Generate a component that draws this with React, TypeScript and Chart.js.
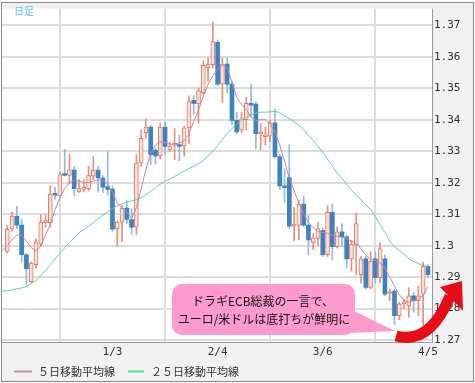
import React, { useEffect, useRef } from 'react';
import { Chart, registerables } from 'chart.js';

Chart.register(...registerables);

// Daily EUR/USD candles (index 0 = first visible day, 88 = 4/5)
const opens = [
  1.2982, 1.3053, 1.3093, 1.3065, 1.2971, 1.2886, 1.2940, 1.3005, 1.3073, 1.3073,
  1.3166, 1.3158, 1.3226, 1.3223, 1.3240, 1.3171, 1.3179, 1.3181, 1.3221, 1.3240,
  1.3215, 1.3188, 1.3180, 1.3054, 1.3075, 1.3119, 1.3083, 1.3059, 1.3263, 1.3359,
  1.3377, 1.3304, 1.3285, 1.3377, 1.3304, 1.3319, 1.3320, 1.3317, 1.3374, 1.3462,
  1.3450, 1.3487, 1.3565, 1.3575, 1.3646, 1.3513, 1.3577, 1.3513, 1.3398, 1.3367,
  1.3400, 1.3452, 1.3450, 1.3354, 1.3346, 1.3348, 1.3390, 1.3283, 1.3190, 1.3216,
  1.3062, 1.3065, 1.3132, 1.3065, 1.3010, 1.3023, 1.3049, 1.2971, 1.3106, 1.2997,
  1.3044, 1.3028, 1.2958, 1.3002, 1.2908, 1.2958, 1.2867, 1.2958, 1.2898, 1.2958,
  1.2848, 1.2856, 1.2778, 1.2815, 1.2809, 1.2841, 1.2825, 1.2846, 1.2934,
];
const highs = [
  1.3064, 1.3106, 1.3125, 1.3083, 1.2976, 1.2948, 1.3022, 1.3098, 1.3098, 1.3190,
  1.3185, 1.3231, 1.3306, 1.3291, 1.3252, 1.3210, 1.3210, 1.3252, 1.3283, 1.3252,
  1.3222, 1.3299, 1.3190, 1.3080, 1.3127, 1.3143, 1.3117, 1.3289, 1.3367, 1.3403,
  1.3382, 1.3310, 1.3390, 1.3393, 1.3328, 1.3372, 1.3351, 1.3380, 1.3476, 1.3476,
  1.3500, 1.3586, 1.3596, 1.3710, 1.3653, 1.3596, 1.3596, 1.3523, 1.3424, 1.3424,
  1.3471, 1.3512, 1.3455, 1.3388, 1.3377, 1.3398, 1.3434, 1.3290, 1.3244, 1.3320,
  1.3122, 1.3143, 1.3158, 1.3096, 1.3038, 1.3075, 1.3054, 1.3127, 1.3132, 1.3059,
  1.3070, 1.3033, 1.3018, 1.3104, 1.2966, 1.2966, 1.2981, 1.2981, 1.3010, 1.2971,
  1.2862, 1.2862, 1.2820, 1.2830, 1.2867, 1.2851, 1.2872, 1.2948, 1.2939,
];
const lows = [
  1.2976, 1.3046, 1.3054, 1.2948, 1.2877, 1.2882, 1.2929, 1.2997, 1.3059, 1.3059,
  1.3148, 1.3153, 1.3221, 1.3195, 1.3158, 1.3169, 1.3171, 1.3174, 1.3210, 1.3170,
  1.3168, 1.3160, 1.3045, 1.3000, 1.3013, 1.3070, 1.3035, 1.3035, 1.3252, 1.3341,
  1.3258, 1.3258, 1.3275, 1.3290, 1.3298, 1.3273, 1.3270, 1.3284, 1.3325, 1.3418,
  1.3388, 1.3481, 1.3523, 1.3565, 1.3508, 1.3455, 1.3486, 1.3385, 1.3356, 1.3359,
  1.3367, 1.3408, 1.3309, 1.3304, 1.3320, 1.3330, 1.3278, 1.3179, 1.3138, 1.3054,
  1.3015, 1.3018, 1.3060, 1.2971, 1.2987, 1.3000, 1.2966, 1.2966, 1.2955, 1.2992,
  1.2997, 1.2929, 1.2919, 1.2908, 1.2882, 1.2862, 1.2862, 1.2882, 1.2882, 1.2841,
  1.2825, 1.2750, 1.2765, 1.2799, 1.2773, 1.2789, 1.2778, 1.2747, 1.2898,
];
const closes = [
  1.3052, 1.3094, 1.3065, 1.2971, 1.2927, 1.2945, 1.3012, 1.3075, 1.3077, 1.3164,
  1.3160, 1.3226, 1.3223, 1.3241, 1.3181, 1.3181, 1.3186, 1.3223, 1.3240, 1.3215,
  1.3186, 1.3179, 1.3052, 1.3075, 1.3119, 1.3083, 1.3059, 1.3263, 1.3341, 1.3377,
  1.3289, 1.3285, 1.3377, 1.3315, 1.3316, 1.3322, 1.3315, 1.3374, 1.3458, 1.3452,
  1.3492, 1.3573, 1.3577, 1.3648, 1.3513, 1.3577, 1.3513, 1.3398, 1.3361, 1.3403,
  1.3452, 1.3446, 1.3356, 1.3361, 1.3351, 1.3390, 1.3283, 1.3190, 1.3184, 1.3062,
  1.3067, 1.3132, 1.3065, 1.3018, 1.3025, 1.3054, 1.2971, 1.3106, 1.2997, 1.3044,
  1.3028, 1.2958, 1.3004, 1.3070, 1.2958, 1.2867, 1.2950, 1.2898, 1.2990, 1.2846,
  1.2854, 1.2778, 1.2815, 1.2820, 1.2841, 1.2825, 1.2841, 1.2934, 1.2908,
];

// Moving averages, index -1 .. 88
const ma5 = [
  1.2983, 1.3000, 1.3020, 1.3033, 1.3033, 1.3014, 1.2994, 1.2982, 1.2998, 1.3035, 1.3068,
  1.3115, 1.3152, 1.3182, 1.3200, 1.3208, 1.3206, 1.3200, 1.3200, 1.3205, 1.3209,
  1.3208, 1.3196, 1.3169, 1.3137, 1.3119, 1.3106, 1.3087, 1.3120, 1.3180, 1.3243,
  1.3293, 1.3320, 1.3330, 1.3328, 1.3322, 1.3322, 1.3326, 1.3333, 1.3355, 1.3395,
  1.3430, 1.3475, 1.3512, 1.3540, 1.3560, 1.3572, 1.3565, 1.3520, 1.3470, 1.3448,
  1.3432, 1.3408, 1.3398, 1.3400, 1.3400, 1.3385, 1.3360, 1.3320, 1.3268, 1.3215,
  1.3175, 1.3135, 1.3102, 1.3073, 1.3057, 1.3045, 1.3042, 1.3039, 1.3034, 1.3030,
  1.3027, 1.3023, 1.3014, 1.3008, 1.2990, 1.2970, 1.2958, 1.2952, 1.2945, 1.2928,
  1.2900, 1.2872, 1.2845, 1.2826, 1.2820, 1.2826, 1.2831, 1.2842, 1.2870,
];
const ma25 = [
  1.2855, 1.2857, 1.2860, 1.2863, 1.2866, 1.2871, 1.2879, 1.2890, 1.2905, 1.2921, 1.2940,
  1.2958, 1.2975, 1.2993, 1.3010, 1.3025, 1.3041, 1.3052, 1.3062, 1.3073, 1.3086,
  1.3097, 1.3108, 1.3118, 1.3126, 1.3133, 1.3138, 1.3142, 1.3146, 1.3152, 1.3162,
  1.3173, 1.3184, 1.3195, 1.3204, 1.3212, 1.3220, 1.3228, 1.3237, 1.3245, 1.3252,
  1.3260, 1.3272, 1.3285, 1.3300, 1.3318, 1.3338, 1.3356, 1.3372, 1.3386, 1.3398,
  1.3408, 1.3416, 1.3421, 1.3424, 1.3424, 1.3425, 1.3427, 1.3422, 1.3412, 1.3403,
  1.3393, 1.3382, 1.3368, 1.3350, 1.3334, 1.3315, 1.3296, 1.3275, 1.3253, 1.3231,
  1.3214, 1.3195, 1.3176, 1.3162, 1.3145, 1.3130, 1.3115, 1.3093, 1.3066, 1.3042,
  1.3015, 1.2997, 1.2985, 1.2972, 1.2958, 1.2950, 1.2943, 1.2937, 1.2934,
];

const xTickIdx = [0, 22, 44, 66, 88];
const xTickLabels = ['', '1/3', '2/4', '3/6', '4/5'];
const yTicks = [1.27, 1.28, 1.29, 1.3, 1.31, 1.32, 1.33, 1.34, 1.35, 1.36, 1.37];
const yTickLabels = ['1.27', '1.28', '1.29', '1.3', '1.31', '1.32', '1.33', '1.34', '1.35', '1.36', '1.37'];
const legendLabels = ['５日移動平均線', '２５日移動平均線'];
const periodLabel = '日足';
const calloutLines = ['ドラギECB総裁の一言で、', 'ユーロ/米ドルは底打ちが鮮明に'];

const MA5_COLOR = '#c986a2';
const MA25_COLOR = '#5fd39c';

export default function App() {
  const ref = useRef<HTMLCanvasElement>(null);

  useEffect(() => {
    document.body.style.margin = '0';
    const canvas = ref.current;
    if (!canvas) return;
    const idx = opens.map((_, i) => i);
    const up = idx.filter((i) => closes[i] >= opens[i]);
    const down = idx.filter((i) => closes[i] < opens[i]);

    const decor = {
      id: 'decor',
      beforeDraw(chart: any) {
        const { ctx, chartArea: a } = chart;
        ctx.save();
        ctx.fillStyle = '#ffffff';
        ctx.fillRect(0, 0, chart.width, chart.height);
        ctx.fillStyle = '#f1f1f1';
        ctx.fillRect(2, 3, 471, 378);
        ctx.fillStyle = '#ffffff';
        ctx.fillRect(a.left, a.top, a.right - a.left, a.bottom - a.top);
        ctx.restore();
      },
      afterDraw(chart: any) {
        const { ctx, chartArea: a } = chart;
        ctx.save();
        // plot border
        ctx.strokeStyle = '#9a9a9a';
        ctx.lineWidth = 1;
        ctx.beginPath();
        ctx.moveTo(a.right + 0.5, a.top);
        ctx.lineTo(a.right + 0.5, a.bottom + 1);
        ctx.moveTo(a.left, a.bottom + 0.5);
        ctx.lineTo(a.right + 1, a.bottom + 0.5);
        ctx.stroke();
        // outer frame
        ctx.strokeStyle = '#8a8a8a';
        ctx.strokeRect(1.5, 2.5, 472, 379);

        // period label
        ctx.fillStyle = '#5cc4ee';
        ctx.font = '10px "Noto Sans CJK JP"';
        ctx.textAlign = 'left';
        ctx.textBaseline = 'middle';
        ctx.fillText(periodLabel, 14, 11);

        // callout
        ctx.fillStyle = '#fd9ccc';
        ctx.beginPath();
        ctx.moveTo(350, 309);
        ctx.lineTo(395, 331);
        ctx.lineTo(350, 333);
        ctx.closePath();
        ctx.fill();
        ctx.beginPath();
        (ctx as any).roundRect(172, 284, 183, 51, 10);
        ctx.fill();
        ctx.fillStyle = '#111111';
        ctx.font = '12px "Noto Sans CJK JP"';
        ctx.textAlign = 'center';
        ctx.fillText(calloutLines[0], 263, 301);
        ctx.fillText(calloutLines[1], 264, 319);

        // red arrow
        ctx.strokeStyle = '#e60d16';
        ctx.fillStyle = '#e60d16';
        ctx.lineWidth = 11;
        ctx.lineCap = 'butt';
        ctx.beginPath();
        ctx.moveTo(396, 336);
        ctx.quadraticCurveTo(430, 345, 450, 296);
        ctx.stroke();
        ctx.beginPath();
        ctx.moveTo(440, 287);
        ctx.lineTo(462, 281);
        ctx.lineTo(463, 311);
        ctx.closePath();
        ctx.fill();

        // legend
        const items = [
          { x: 14, len: 18, tx: 38, color: MA5_COLOR, text: legendLabels[0] },
          { x: 128, len: 16, tx: 151, color: MA25_COLOR, text: legendLabels[1] },
        ];
        ctx.font = '11px "Noto Sans CJK JP"';
        ctx.textAlign = 'left';
        ctx.textBaseline = 'middle';
        items.forEach((it) => {
          ctx.strokeStyle = it.color;
          ctx.lineWidth = 2;
          ctx.beginPath();
          ctx.moveTo(it.x, 371.5);
          ctx.lineTo(it.x + it.len, 371.5);
          ctx.stroke();
          ctx.fillStyle = '#333333';
          ctx.fillText(it.text, it.tx, 372);
        });
        ctx.restore();
      },
    };

    const chart = new Chart(canvas, {
      type: 'bar',
      data: {
        datasets: [
          {
            type: 'line',
            label: legendLabels[0],
            data: ma5.map((v, k) => ({ x: k - 1, y: v })),
            borderColor: MA5_COLOR,
            borderWidth: 1,
            pointRadius: 0,
            order: 0,
          },
          {
            type: 'line',
            label: legendLabels[1],
            data: ma25.map((v, k) => ({ x: k - 1, y: v })),
            borderColor: MA25_COLOR,
            borderWidth: 1,
            pointRadius: 0,
            order: 0,
          },
          {
            type: 'bar',
            label: 'up',
            data: up.map((i) => ({ x: i, y: [opens[i], closes[i]] })),
            backgroundColor: '#fce3da',
            borderColor: '#e2785e',
            borderWidth: 1,
            borderSkipped: false,
            barThickness: 4,
            grouped: false,
            minBarLength: 2,
            order: 1,
          },
          {
            type: 'bar',
            label: 'down',
            data: down.map((i) => ({ x: i, y: [opens[i], closes[i]] })),
            backgroundColor: '#3c83c4',
            borderWidth: 0,
            barThickness: 4,
            grouped: false,
            minBarLength: 2,
            order: 1,
          },
          {
            type: 'bar',
            label: 'up wick',
            data: up.map((i) => ({ x: i, y: [lows[i], highs[i]] })),
            backgroundColor: '#e8907a',
            borderWidth: 0,
            barThickness: 1,
            grouped: false,
            order: 2,
          },
          {
            type: 'bar',
            label: 'down wick',
            data: down.map((i) => ({ x: i, y: [lows[i], highs[i]] })),
            backgroundColor: '#8dbbe3',
            borderWidth: 0,
            barThickness: 1,
            grouped: false,
            order: 2,
          },
        ] as any,
      },
      options: {
        responsive: false,
        animation: false,
        devicePixelRatio: 1,
        layout: { padding: { left: 2, top: 3, right: 2, bottom: 21 } },
        plugins: {
          legend: { display: false },
          tooltip: { enabled: false },
        },
        scales: {
          x: {
            type: 'linear',
            min: -1.11,
            max: 88.85,
            offset: false,
            grid: { color: '#dcdcdc', lineWidth: 2, drawTicks: false },
            border: { display: false },
            ticks: {
              autoSkip: false,
              maxRotation: 0,
              padding: 4,
              color: '#333333',
              font: { family: 'DejaVu Sans Mono', size: 11 },
              callback: (_v: any, i: number) => xTickLabels[i],
            },
            afterBuildTicks: (s: any) => {
              s.ticks = xTickIdx.map((v) => ({ value: v }));
            },
            afterFit: (s: any) => {
              s.height = 20;
            },
          },
          y: {
            type: 'linear',
            position: 'right',
            min: 1.2694,
            max: 1.3753,
            grid: { color: '#dcdcdc', lineWidth: 2, drawTicks: false },
            border: { display: false },
            ticks: {
              padding: 2,
              color: '#333333',
              font: { family: 'DejaVu Sans Mono', size: 11 },
              callback: (_v: any, i: number) => yTickLabels[i],
            },
            afterBuildTicks: (s: any) => {
              s.ticks = yTicks.map((v) => ({ value: v }));
            },
            afterFit: (s: any) => {
              s.width = 41;
            },
          },
        },
      } as any,
      plugins: [decor],
    });
    return () => chart.destroy();
  }, []);

  return <canvas ref={ref} width={475} height={383} style={{ display: 'block' }} />;
}
